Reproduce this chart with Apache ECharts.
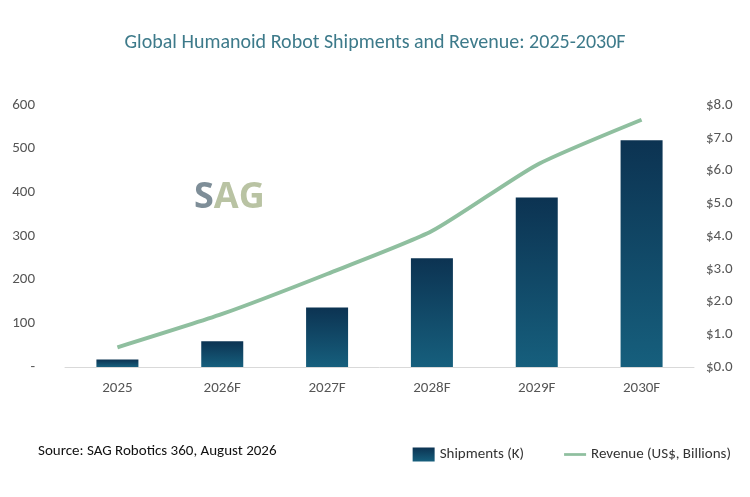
<!DOCTYPE html>
<html><head><meta charset="utf-8">
<script src="https://cdn.jsdelivr.net/npm/echarts@6/dist/echarts.min.js"></script>
<style>html,body{margin:0;padding:0;background:#fff}#c{width:750px;height:497px}</style>
</head><body><div id="c"></div>
<script>
const categories = ['2025','2026F','2027F','2028F','2029F','2030F'];
const shipments = [17, 59, 136, 249, 388, 519];
const revenue = [0.6, 1.62, 2.84, 4.15, 6.17, 7.55];
const leftTicks = [0,100,200,300,400,500,600];

const chart = echarts.init(document.getElementById('c'));
const font = 'Calibri, Carlito, "Open Sans", sans-serif';
chart.setOption({
  animation:false,
  textStyle:{fontFamily:font},
  title:{text:'Global Humanoid Robot Shipments and Revenue: 2025-2030F',left:'center',top:28,
    textStyle:{color:'#3d7a8a',fontSize:20,fontWeight:'normal',fontFamily:font}},
  grid:{left:65,right:56,top:105,bottom:130},
  legend:{bottom:30,right:14,itemGap:40,itemWidth:22,itemHeight:14,textStyle:{color:'#333',fontSize:15},
    data:[{name:'Shipments (K)',icon:'rect'},{name:'Revenue (US$, Billions)',icon:'path://M0,6 L24,6 L24,9 L0,9 Z',itemStyle:{color:'#8fbf9f'}}]},
  graphic:[
    {type:'text',left:38,top:444,style:{text:'Source: SAG Robotics 360, August 2026',fill:'#111',font:'15px '+font}},
    {type:'text',left:194,top:180,style:{text:'{a|S}{b|AG}',rich:{a:{fill:'#7e8e98',font:'bold 36px "Open Sans"'},b:{fill:'#b9c3a3',font:'bold 36px "Open Sans"'}}}}
  ],
  xAxis:{type:'category',data:categories,axisTick:{show:false},
    axisLine:{lineStyle:{color:'#d9d9d9'}},axisLabel:{color:'#555',fontSize:15,margin:14}},
  yAxis:[
    {type:'value',min:0,max:600,interval:100,splitLine:{show:false},
     axisLabel:{color:'#555',fontSize:15,margin:30,formatter:v=>v===0?'-':String(v)}},
    {type:'value',min:0,max:8,interval:1,splitLine:{show:false},
     axisLabel:{color:'#555',fontSize:15,margin:12,formatter:v=>'$'+v.toFixed(1)}}
  ],
  series:[
    {name:'Shipments (K)',type:'bar',data:shipments,barWidth:42,
     itemStyle:{color:new echarts.graphic.LinearGradient(0,0,0,1,[{offset:0,color:'#0c3352'},{offset:1,color:'#165f7d'}])}},
    {name:'Revenue (US$, Billions)',type:'line',yAxisIndex:1,data:revenue,smooth:0.2,showSymbol:false,
     lineStyle:{color:'#8fbf9f',width:4},itemStyle:{color:'#8fbf9f'}}
  ]
});
</script></body></html>
